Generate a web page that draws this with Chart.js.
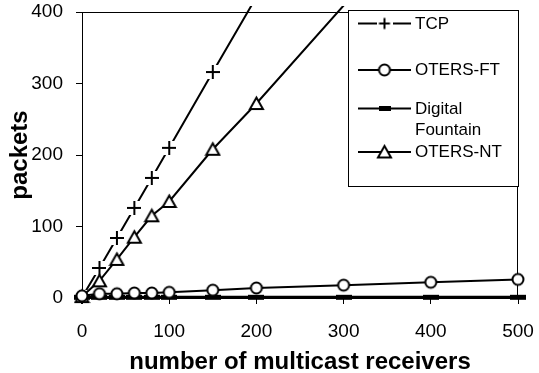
<!DOCTYPE html>
<html>
<head>
<meta charset="utf-8">
<script src="https://cdn.jsdelivr.net/npm/chart.js@4/dist/chart.umd.min.js"></script>
<style>
  html, body { margin: 0; padding: 0; background: #fff; }
  #wrap { width: 539px; height: 373px; position: relative; }
</style>
</head>
<body>
<div id="wrap"><canvas id="chart" width="539" height="373"></canvas></div>
<script>
// Packets sent versus number of multicast receivers
const receivers       = [0, 20, 40, 60, 80, 100, 150, 200, 300, 400, 500];
const tcpPackets      = [1, 42, 84, 126, 168, 210, 316, 421, 632, 842, 1053];
const otersFtPackets  = [3, 6, 6, 7, 7, 8, 11, 14, 18, 22, 26];
const fountainPackets = [1, 1, 1, 1, 1, 1, 1, 1, 1, 1, 1];
const otersNtPackets  = [2, 24, 54, 85, 115, 135, 208, 272, 409, 546, 683];
const seriesNames     = ['TCP', 'OTERS-FT', 'Digital Fountain', 'OTERS-NT'];
const xTickValues     = [0, 100, 200, 300, 400, 500];
const yTickValues     = [0, 100, 200, 300, 400];

const FONT = "'Liberation Sans', Arial, Helvetica, sans-serif";

// Small canvases used as point markers (white-filled like classic spreadsheet markers)
function makeMarker(w, h, draw) {
  const c = document.createElement('canvas');
  c.width = w; c.height = h;
  const g = c.getContext('2d');
  draw(g, w, h);
  return c;
}
function plusMarker(box, arm) {
  return makeMarker(box, box, (g, w) => {
    const m = w / 2;
    g.fillStyle = '#fff';
    g.fillRect(0, 0, w, w);
    g.strokeStyle = '#000';
    g.lineWidth = 2;
    g.beginPath();
    g.moveTo(m - arm, m); g.lineTo(m + arm, m);
    g.moveTo(m, m - arm); g.lineTo(m, m + arm);
    g.stroke();
  });
}
const circleMark = makeMarker(16, 16, g => {
  g.fillStyle = '#fff'; g.strokeStyle = '#000'; g.lineWidth = 2;
  g.beginPath(); g.arc(8, 8, 5.5, 0, Math.PI * 2); g.fill(); g.stroke();
});
const triangleMark = makeMarker(17, 17, g => {
  g.fillStyle = '#fff'; g.strokeStyle = '#000'; g.lineWidth = 2; g.lineJoin = 'miter';
  g.beginPath(); g.moveTo(8.5, 2.5); g.lineTo(15, 14); g.lineTo(2, 14); g.closePath();
  g.fill(); g.stroke();
});
function dashMarker(w, h) {
  return makeMarker(w, h + 2, g => { g.fillStyle = '#000'; g.fillRect(0, 1, w, h); });
}
const plotMarks   = [plusMarker(14, 7), circleMark, dashMarker(16, 5), triangleMark];
const legendMarks = [plusMarker(16, 5.5), circleMark, dashMarker(12, 5), triangleMark];

const seriesValues = [tcpPackets, otersFtPackets, fountainPackets, otersNtPackets];
// lower order is painted on top
const drawOrder = [3, 0, 2, 1];

const datasets = seriesNames.map((name, i) => ({
  label: name,
  data: receivers.map((r, k) => ({ x: r, y: seriesValues[i][k] })),
  order: drawOrder[i],
  borderColor: '#000',
  backgroundColor: '#fff',
  borderWidth: i === 2 ? 3 : 2,
  pointStyle: plotMarks[i],
  // small radius: markers above the axis maximum are skipped, the image sets the drawn size
  pointRadius: 1,
  pointHoverRadius: 1,
  tension: 0,
  fill: false,
  clip: { left: 8, top: 6, right: 8, bottom: 8 }
}));

// Frame around the plot area (top and right edges)
const plotFrame = {
  id: 'plotFrame',
  beforeDatasetsDraw(chart) {
    const { ctx, chartArea: a } = chart;
    ctx.save();
    ctx.strokeStyle = '#000';
    ctx.lineWidth = 1;
    ctx.beginPath();
    ctx.moveTo(Math.round(a.left) + 0.5, Math.round(a.top) + 0.5);
    ctx.lineTo(Math.round(a.right) - 0.5, Math.round(a.top) + 0.5);
    ctx.lineTo(Math.round(a.right) - 0.5, Math.round(a.bottom));
    ctx.stroke();
    ctx.restore();
  }
};

// Boxed legend in the upper right corner
const boxLegend = {
  id: 'boxLegend',
  afterDraw(chart) {
    const ctx = chart.ctx;
    const rowY = [23.5, 70, 108.5, 152];
    ctx.save();
    ctx.fillStyle = '#fff';
    ctx.fillRect(348, 10, 171, 177);
    ctx.strokeStyle = '#000';
    ctx.lineWidth = 1;
    ctx.strokeRect(348.5, 10.5, 170, 176);
    chart.data.datasets.forEach((ds, i) => {
      const y = rowY[i];
      ctx.strokeStyle = '#000';
      ctx.lineWidth = 2;
      ctx.beginPath();
      ctx.moveTo(358, y); ctx.lineTo(411, y);
      ctx.stroke();
      const m = legendMarks[i];
      ctx.drawImage(m, 384.5 - m.width / 2, y - m.height / 2);
      ctx.fillStyle = '#000';
      ctx.font = '17px ' + FONT;
      ctx.textAlign = 'left';
      ctx.textBaseline = 'middle';
      const lines = ds.label === 'Digital Fountain' ? ds.label.split(' ') : [ds.label];
      lines.forEach((t, k) => ctx.fillText(t, 415, y + 0.5 + k * 21.7));
    });
    ctx.restore();
  }
};

// Keep the plot area fixed: no extra room reserved for overhanging end labels
function fixPadding(s) {
  s.paddingLeft = 0; s.paddingRight = 0; s.paddingTop = 0; s.paddingBottom = 0;
}

new Chart(document.getElementById('chart'), {
  type: 'line',
  data: { datasets },
  plugins: [plotFrame, boxLegend],
  options: {
    responsive: false,
    animation: false,
    layout: { padding: { top: 12, right: 21, left: 0, bottom: 0 } },
    plugins: { legend: { display: false }, tooltip: { enabled: false } },
    scales: {
      x: {
        type: 'linear',
        min: 0, max: 500,
        afterBuildTicks: s => { s.ticks = xTickValues.map(v => ({ value: v })); },
        afterFit: s => { s.height = 75; fixPadding(s); },
        grid: { drawOnChartArea: false, drawTicks: true, tickLength: 6, color: '#000', tickColor: '#000', tickWidth: 1 },
        border: { display: true, color: '#000', width: 1 },
        ticks: { color: '#000', font: { family: FONT, size: 19 }, padding: 16, maxRotation: 0, autoSkip: false },
        title: { display: true, text: 'number of multicast receivers', color: '#000',
                 font: { family: FONT, size: 24, weight: 'bold', lineHeight: 1 }, padding: { top: 0, bottom: -1 } }
      },
      y: {
        type: 'linear',
        min: 0, max: 400,
        afterBuildTicks: s => { s.ticks = yTickValues.map(v => ({ value: v })); },
        afterFit: s => { s.width = 82; fixPadding(s); },
        grid: { drawOnChartArea: false, drawTicks: true, tickLength: 6, color: '#000', tickColor: '#000', tickWidth: 1 },
        border: { display: true, color: '#000', width: 1 },
        ticks: { color: '#000', font: { family: FONT, size: 19 }, padding: 13, autoSkip: false },
        title: { display: true, text: 'packets', color: '#000',
                 font: { family: FONT, size: 24, weight: 'bold', lineHeight: 1 }, padding: { top: 8, bottom: 0 } }
      }
    }
  }
});
</script>
</body>
</html>
